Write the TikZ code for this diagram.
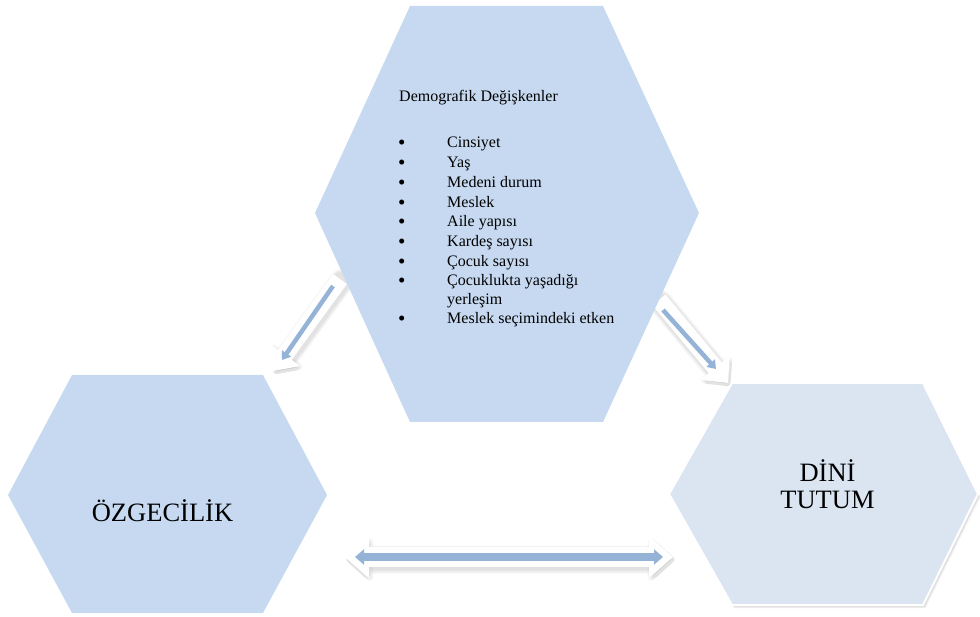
\documentclass[tikz,border=0pt]{standalone}
\usepackage{fontspec}
\setmainfont{Liberation Serif}
\usetikzlibrary{arrows.meta}
\definecolor{hexA}{HTML}{C6D9F0}
\definecolor{hexB}{HTML}{DBE5F1}
\definecolor{arrblue}{HTML}{95B3D7}
\tikzset{
  hexfill/.style={fill=hexA, draw=none},
  hexlight/.style={fill=hexB, draw=white, line width=2pt, line join=miter},
  lst/.style={anchor=base west, inner sep=0pt, font=\fontsize{16}{19}\selectfont},
  bul/.style={anchor=base west, inner sep=0pt, font=\fontsize{21}{19}\selectfont},
  big/.style={inner sep=0pt, font=\fontsize{26.5}{26.5}\selectfont, align=center},
  blueone/.style={draw=arrblue, line width=4.5pt, -{Triangle[width=11pt,length=8pt]}},
  bluetwo/.style={draw=arrblue, line width=8pt, {Triangle[width=15pt,length=9pt]}-{Triangle[width=15pt,length=9pt]}}
}
% #1,#2 ends; #3 body width; #4 head width; #5 head length
\newcommand\wArrowOne[5]{%
  \foreach \k in {5,4,...,1}{%
    \draw[draw=black, opacity=0.022, line width={#3+1.6*\k}, line cap=round,
      -{Triangle[width={#4+1.8*\k}, length={#5+1*\k}, round]}]
      ([shift={(1.5,2.5)}]#1) -- ([shift={(1.5,2.5)}]#2);}
  \draw[draw=white, line width=#3, -{Triangle[width=#4,length=#5]}] (#1) -- (#2);}
\newcommand\wArrowTwo[5]{%
  \foreach \k in {5,4,...,1}{%
    \draw[draw=black, opacity=0.022, line width={#3+1.6*\k},
      {Triangle[width={#4+1.8*\k}, length={#5+1*\k}, round]}-{Triangle[width={#4+1.8*\k}, length={#5+1*\k}, round]}]
      ([shift={(1.5,2.5)}]#1) -- ([shift={(1.5,2.5)}]#2);}
  \draw[draw=white, line width=#3, {Triangle[width=#4,length=#5]}-{Triangle[width=#4,length=#5]}] (#1) -- (#2);}
\begin{document}
\begin{tikzpicture}[x=1pt,y=-1pt]
\useasboundingbox (0,0) rectangle (980,617);
% named coordinates for connectors
\coordinate (la1) at (340,279);
\coordinate (la2) at (273,371);
\coordinate (lb1) at (333,286);
\coordinate (lb2) at (282,360);
\coordinate (ra1) at (659,300);
\coordinate (ra2) at (728,383);
\coordinate (rb1) at (663,310);
\coordinate (rb2) at (716,369);
\coordinate (da1) at (345,557);
\coordinate (da2) at (673,557);
\coordinate (db1) at (355,557);
\coordinate (db2) at (663,557);
% arrows (under the hexagons)
\wArrowOne{la1}{la2}{17}{37}{20}
\draw[blueone] (lb1) -- (lb2);
\wArrowOne{ra1}{ra2}{17}{37}{20}
\draw[blueone] (rb1) -- (rb2);
\wArrowTwo{da1}{da2}{20}{41}{24}
\draw[bluetwo] (db1) -- (db2);
% top hexagon
\path[hexfill] (410,6) -- (603,6) -- (699,213) -- (603,422) -- (410,422) -- (315,213) -- cycle;
\node[lst] (title) at (399,102) {Demografik Değişkenler};
\foreach \t [count=\i] in {Cinsiyet,Yaş,Medeni durum,Meslek,Aile yapısı,Kardeş sayısı,Çocuk sayısı,Çocuklukta yaşadığı}{
  \node[lst] (it\i) at (447,{148+19.7*(\i-1)}) {\t};
  \node[bul] (bu\i) at (398,{150+19.7*(\i-1)}) {•};
}
\node[lst] (it8b) at (447,305) {yerleşim};
\node[lst] (it9) at (447,324) {Meslek seçimindeki etken};
\node[bul] (bu9) at (398,326) {•};
% left hexagon
\path[hexfill] (72,375) -- (263,375) -- (327,495) -- (263,613) -- (72,613) -- (8,495) -- cycle;
\node[big, anchor=base] (ozg) at (162.5,521) {ÖZGECİLİK};
% right hexagon with soft shadow
\foreach \k in {1,...,4}{
  \path[fill=black, opacity=0.05] ([shift={(0.6*\k,0.8*\k)}]732,383) -- ([shift={(0.6*\k,0.8*\k)}]923,383) -- ([shift={(0.6*\k,0.8*\k)}]978,494) -- ([shift={(0.6*\k,0.8*\k)}]923,605) -- ([shift={(0.6*\k,0.8*\k)}]732,605) -- ([shift={(0.6*\k,0.8*\k)}]669,494) -- cycle;}
\path[hexlight] (732,383) -- (923,383) -- (978,494) -- (923,605) -- (732,605) -- (669,494) -- cycle;
\node[big, anchor=base] (din) at (827.5,481) {DİNİ};
\node[big, anchor=base] (tut) at (827.5,508) {TUTUM};
\end{tikzpicture}
\end{document}
